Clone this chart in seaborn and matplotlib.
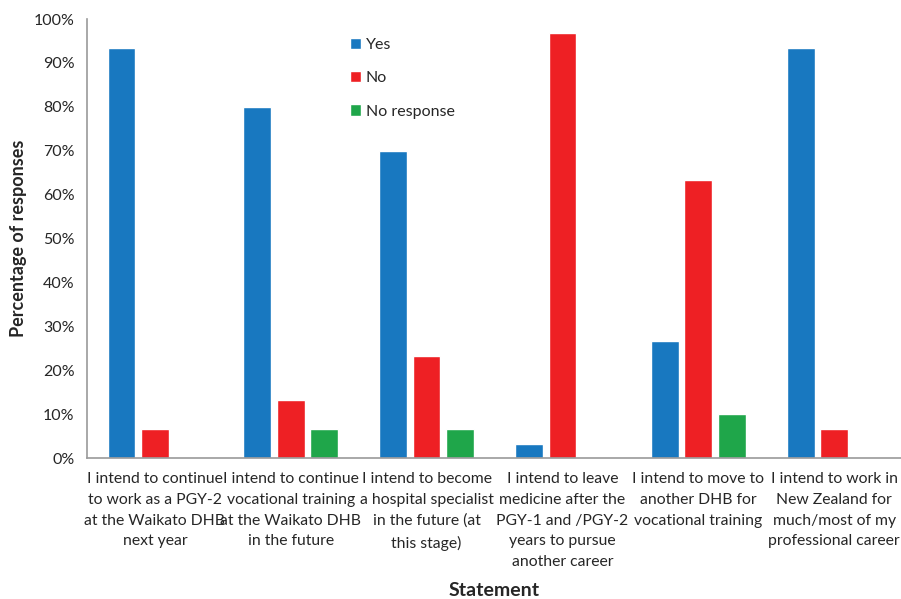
import matplotlib
matplotlib.use("Agg")
import matplotlib.pyplot as plt
import seaborn as sns
import pandas as pd
from matplotlib.ticker import PercentFormatter

statements = [
    "I intend to continue\nto work as a PGY-2\nat the Waikato DHB\nnext year",
    "I intend to continue\nvocational training\nat the Waikato DHB\nin the future",
    "I intend to become\na hospital specialist\nin the future (at\nthis stage)",
    "I intend to leave\nmedicine after the\nPGY-1 and /PGY-2\nyears to pursue\nanother career",
    "I intend to move to\nanother DHB for\nvocational training",
    "I intend to work in\nNew Zealand for\nmuch/most of my\nprofessional career",
]
responses = ["Yes", "No", "No response"]
yes_vals = [93.3, 80.0, 70.0, 3.3, 26.7, 93.3]
no_vals = [6.7, 13.3, 23.3, 96.7, 63.3, 6.7]
nr_vals = [0.0, 6.7, 6.7, 0.0, 10.0, 0.0]

rows = []
for i, s in enumerate(statements):
    for r, v in zip(responses, [yes_vals[i], no_vals[i], nr_vals[i]]):
        rows.append({"Statement": s, "Response": r, "Value": v})
df = pd.DataFrame(rows)

sns.set_style("white")
plt.rcParams["font.family"] = ["Lato", "DejaVu Sans"]

fig = plt.figure(figsize=(9.01, 5.99), dpi=100)
ax = fig.add_axes([87/901, 1-458/599, (902-87)/901, (458-19)/599])

palette = {"Yes": "#1878C0", "No": "#EE2024", "No response": "#1FA64A"}
sns.barplot(data=df, x="Statement", y="Value", hue="Response", palette=palette,
            width=0.738, gap=0.17, ax=ax, saturation=1, errorbar=None, legend=True)

ax.set_ylim(0, 100)
ax.set_yticks(range(0, 101, 10))
ax.yaxis.set_major_formatter(PercentFormatter(decimals=0))
ax.set_xlim(-0.5, 5.5)
for side in ["top", "right"]:
    ax.spines[side].set_visible(False)
for side in ["left", "bottom"]:
    ax.spines[side].set_color("#9a9a9a")
    ax.spines[side].set_linewidth(1.2)
ax.tick_params(axis="y", direction="out", length=5, color="#9a9a9a", labelsize=11.5, pad=4)
ax.tick_params(axis="x", length=0, labelsize=11.3, pad=10)
for lbl in ax.get_xticklabels():
    lbl.set_linespacing(1.62)

ax.set_xlabel("Statement", fontsize=14, fontweight="bold", labelpad=9)
ax.set_ylabel("Percentage of responses", fontsize=13, fontweight="bold", labelpad=5)

leg = ax.legend(loc="upper left", bbox_to_anchor=(0.305, 0.99), frameon=False,
                fontsize=11.5, handlelength=0.7, handleheight=0.7, labelspacing=1.2,
                handletextpad=0.3)

fig.savefig("out.png", dpi=100)
